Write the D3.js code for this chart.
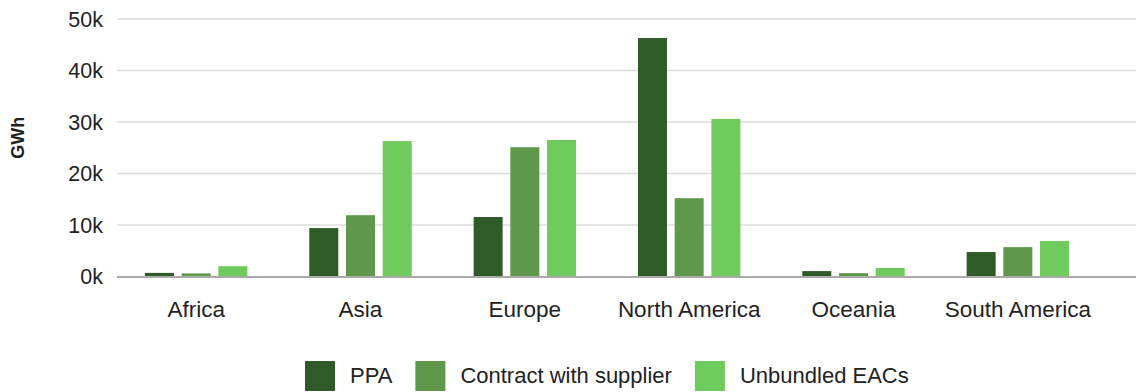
<!DOCTYPE html>
<html>
<head>
<meta charset="utf-8">
<script src="https://cdn.jsdelivr.net/npm/d3@7"></script>
<style>
  html, body { margin: 0; padding: 0; background: #fff; }
  svg { display: block; font-family: "Liberation Sans", Arial, sans-serif; }
</style>
</head>
<body>
<svg id="chart" width="1142" height="392"></svg>
<script>
// Renewable electricity sourcing by region (GWh)
const regions = ["Africa", "Asia", "Europe", "North America", "Oceania", "South America"];
const seriesNames = ["PPA", "Contract with supplier", "Unbundled EACs"];
const ppa = [700, 9400, 11550, 46300, 1050, 4750];
const contractWithSupplier = [600, 11900, 25100, 15200, 650, 5700];
const unbundledEACs = [2000, 26300, 26500, 30600, 1650, 6900];
const yTicks = [0, 10000, 20000, 30000, 40000, 50000];
const colors = ["#2f5b29", "#5f974b", "#6fcb5c"];

const seriesValues = [ppa, contractWithSupplier, unbundledEACs];
const rows = regions.map((r, i) => ({
  region: r,
  values: seriesNames.map((s, k) => ({ series: s, value: seriesValues[k][i], k }))
}));

const svg = d3.select("#chart");
const plot = { left: 117, right: 1136, top: 19, bottom: 276.5 };

const x = d3.scaleBand().domain(regions).range([114, 1100]).padding(0);
const inner = d3.scaleBand().domain(seriesNames).range([-51.2, 51.2])
  .paddingInner(0.21).paddingOuter(0);
const y = d3.scaleLinear().domain([0, 50000]).range([plot.bottom, plot.top]);

// gridlines
svg.append("g")
  .selectAll("line")
  .data(yTicks.filter(t => t > 0))
  .join("line")
  .attr("x1", plot.left).attr("x2", plot.right)
  .attr("y1", d => y(d)).attr("y2", d => y(d))
  .attr("stroke", "#dcdcdc").attr("stroke-width", 1.5);

// y tick labels
svg.append("g")
  .selectAll("text")
  .data(yTicks)
  .join("text")
  .attr("x", 103)
  .attr("y", d => y(d))
  .attr("dy", "0.36em")
  .attr("text-anchor", "end")
  .attr("font-size", 21.5)
  .attr("fill", "#222")
  .text(d => d3.format("d")(d / 1000) + "k");

// y axis title
svg.append("text")
  .attr("transform", `translate(24,${(plot.top + plot.bottom) / 2 - 10}) rotate(-90)`)
  .attr("text-anchor", "middle")
  .attr("font-size", 18)
  .attr("font-weight", "bold")
  .attr("fill", "#222")
  .text("GWh");

// bars
const groups = svg.append("g")
  .selectAll("g")
  .data(rows)
  .join("g")
  .attr("transform", d => `translate(${x(d.region) + x.bandwidth() / 2},0)`);

groups.selectAll("rect")
  .data(d => d.values)
  .join("rect")
  .attr("x", d => inner(d.series))
  .attr("width", inner.bandwidth())
  .attr("y", d => y(d.value))
  .attr("height", d => y(0) - y(d.value))
  .attr("fill", d => colors[d.k]);

// baseline
svg.append("line")
  .attr("x1", plot.left).attr("x2", plot.right)
  .attr("y1", y(0) + 0.5).attr("y2", y(0) + 0.5)
  .attr("stroke", "#aaaaaa").attr("stroke-width", 2);

// category labels
svg.append("g")
  .selectAll("text")
  .data(regions)
  .join("text")
  .attr("x", d => x(d) + x.bandwidth() / 2)
  .attr("y", 317)
  .attr("text-anchor", "middle")
  .attr("font-size", 22.5)
  .attr("fill", "#222")
  .text(d => d);

// legend
const legend = svg.append("g");
const items = legend.selectAll("g")
  .data(seriesNames)
  .join("g");
items.append("rect")
  .attr("width", 30).attr("height", 30)
  .attr("y", 361)
  .attr("fill", (d, i) => colors[i]);
items.append("text")
  .attr("x", 45)
  .attr("y", 383)
  .attr("font-size", 22)
  .attr("fill", "#222")
  .text(d => d);

let cursor = 305;
const positions = [];
items.each(function () {
  const w = d3.select(this).select("text").node().getComputedTextLength();
  positions.push(cursor);
  cursor += 45 + w + 23;
});
items.attr("transform", (d, i) => `translate(${positions[i]},0)`);
</script>
</body>
</html>
